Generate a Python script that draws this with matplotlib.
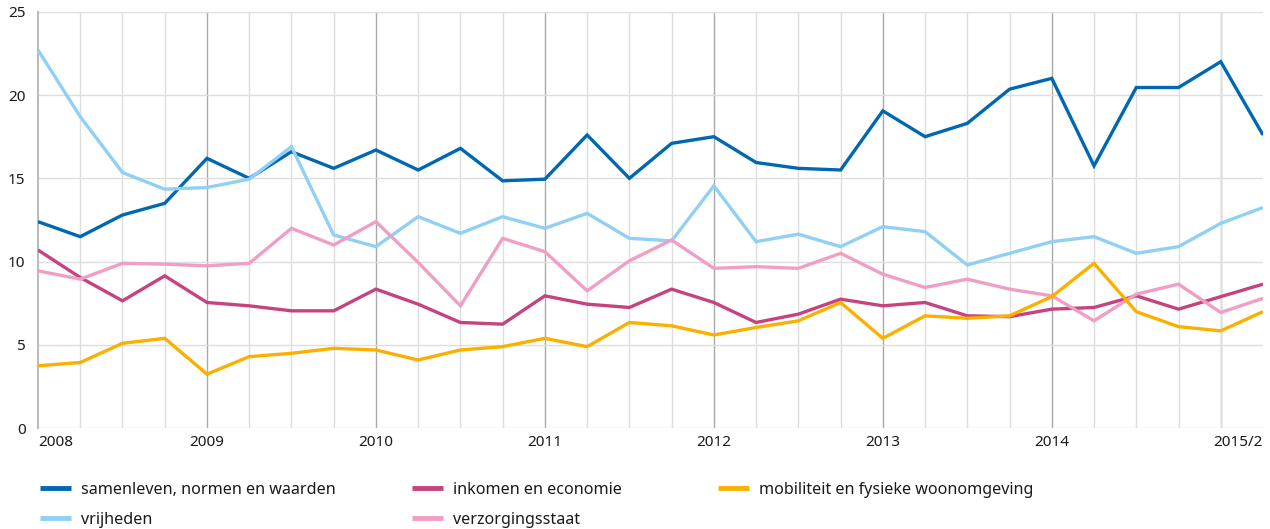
import matplotlib
matplotlib.use("Agg")
import matplotlib.pyplot as plt
import numpy as np

plt.rcParams['font.family'] = ['Noto Sans', 'DejaVu Sans']

quarters = list(range(30))  # 2008Q1 .. 2015Q2
tick_pos = [0, 4, 8, 12, 16, 20, 24, 29]
tick_labels = ['2008', '2009', '2010', '2011', '2012', '2013', '2014', '2015/2']
year_lines = [4, 8, 12, 16, 20, 24, 28]
y_ticks = [0, 5, 10, 15, 20, 25]

samenleven = [12.4, 11.5, 12.8, 13.5, 16.2, 15.0, 16.6, 15.6, 16.7, 15.5,
              16.8, 14.85, 14.95, 17.6, 15.0, 17.1, 17.5, 15.95, 15.6, 15.5,
              19.05, 17.5, 18.3, 20.35, 21.0, 15.75, 20.45, 20.45, 22.0, 17.6]
vrijheden = [22.7, 18.7, 15.35, 14.35, 14.45, 14.95, 16.9, 11.6, 10.9, 12.7,
             11.7, 12.7, 12.0, 12.9, 11.4, 11.25, 14.55, 11.2, 11.65, 10.9,
             12.1, 11.8, 9.8, 10.5, 11.2, 11.5, 10.5, 10.9, 12.3, 13.25]
inkomen = [10.7, 9.05, 7.65, 9.15, 7.55, 7.35, 7.05, 7.05, 8.35, 7.45,
           6.35, 6.25, 7.95, 7.45, 7.25, 8.35, 7.55, 6.35, 6.85, 7.75,
           7.35, 7.55, 6.75, 6.7, 7.15, 7.25, 7.95, 7.15, 7.9, 8.65]
verzorgingsstaat = [9.45, 8.95, 9.9, 9.85, 9.75, 9.9, 12.0, 11.0, 12.4, 9.95,
                    7.35, 11.4, 10.6, 8.25, 10.05, 11.3, 9.6, 9.7, 9.6, 10.5,
                    9.25, 8.45, 8.95, 8.35, 7.95, 6.45, 8.05, 8.65, 6.95, 7.8]
mobiliteit = [3.75, 3.95, 5.1, 5.4, 3.25, 4.3, 4.5, 4.8, 4.7, 4.1,
              4.7, 4.9, 5.4, 4.9, 6.35, 6.15, 5.6, 6.05, 6.45, 7.55,
              5.4, 6.75, 6.6, 6.75, 7.9, 9.9, 7.0, 6.1, 5.85, 7.0]

series = [
    ("samenleven, normen en waarden", samenleven, "#0067b1"),
    ("vrijheden", vrijheden, "#90d0f4"),
    ("inkomen en economie", inkomen, "#c5437e"),
    ("verzorgingsstaat", verzorgingsstaat, "#f19ec5"),
    ("mobiliteit en fysieke woonomgeving", mobiliteit, "#fbb000"),
]

fig = plt.figure(figsize=(12.7, 5.29), dpi=100)
ax = fig.add_axes([38/1270, 1-428.3/529, (1263-38)/1270, (428.3-11.7)/529])

lines = {}
for name, vals, col in series:
    ln, = ax.plot(quarters, vals, color=col, lw=2.4, solid_joinstyle='miter',
                  solid_capstyle='butt', zorder=3, label=name)
    lines[name] = ln

ax.set_xlim(0, 29)
ax.set_ylim(0, 25)

# grids
ax.set_xticks(quarters, minor=True)
ax.grid(True, which='minor', axis='x', color='#dedede', lw=1.0, zorder=0)
ax.set_yticks(y_ticks)
ax.grid(True, which='major', axis='y', color='#dedede', lw=1.0, zorder=0)
for xl in year_lines:
    ax.axvline(xl, color='#a9a9a9', lw=1.0, zorder=1)

ax.set_xticks(tick_pos)
ax.set_xticklabels(tick_labels)
labs = ax.get_xticklabels()
labs[0].set_ha('left')
labs[-1].set_ha('right')
ax.tick_params(axis='x', which='both', length=0, pad=5, labelsize=11, labelcolor='#1a1a1a')
ax.tick_params(axis='y', which='both', length=0, pad=9, labelsize=11, labelcolor='#1a1a1a')

for s in ['top', 'right', 'bottom']:
    ax.spines[s].set_visible(False)
ax.spines['left'].set_color('#bcbcbc')
ax.spines['left'].set_linewidth(1.5)
ax.spines['left'].set_zorder(2)

# legends (three columns)
cols = [
    (40/1270, ["samenleven, normen en waarden", "vrijheden"]),
    (412/1270, ["inkomen en economie", "verzorgingsstaat"]),
    (718/1270, ["mobiliteit en fysieke woonomgeving"]),
]
for xpos, names in cols:
    fig.legend([lines[n] for n in names], names, loc='upper left',
               bbox_to_anchor=(xpos, 1-482/529), frameon=False, borderpad=0,
               borderaxespad=0, handlelength=1.9, handletextpad=0.65,
               labelspacing=0.86, fontsize=11.6, labelcolor='#1a1a1a')
for lg in fig.legends:
    for h in lg.legend_handles:
        h.set_linewidth(3.5)

fig.savefig("out.png", dpi=100)
